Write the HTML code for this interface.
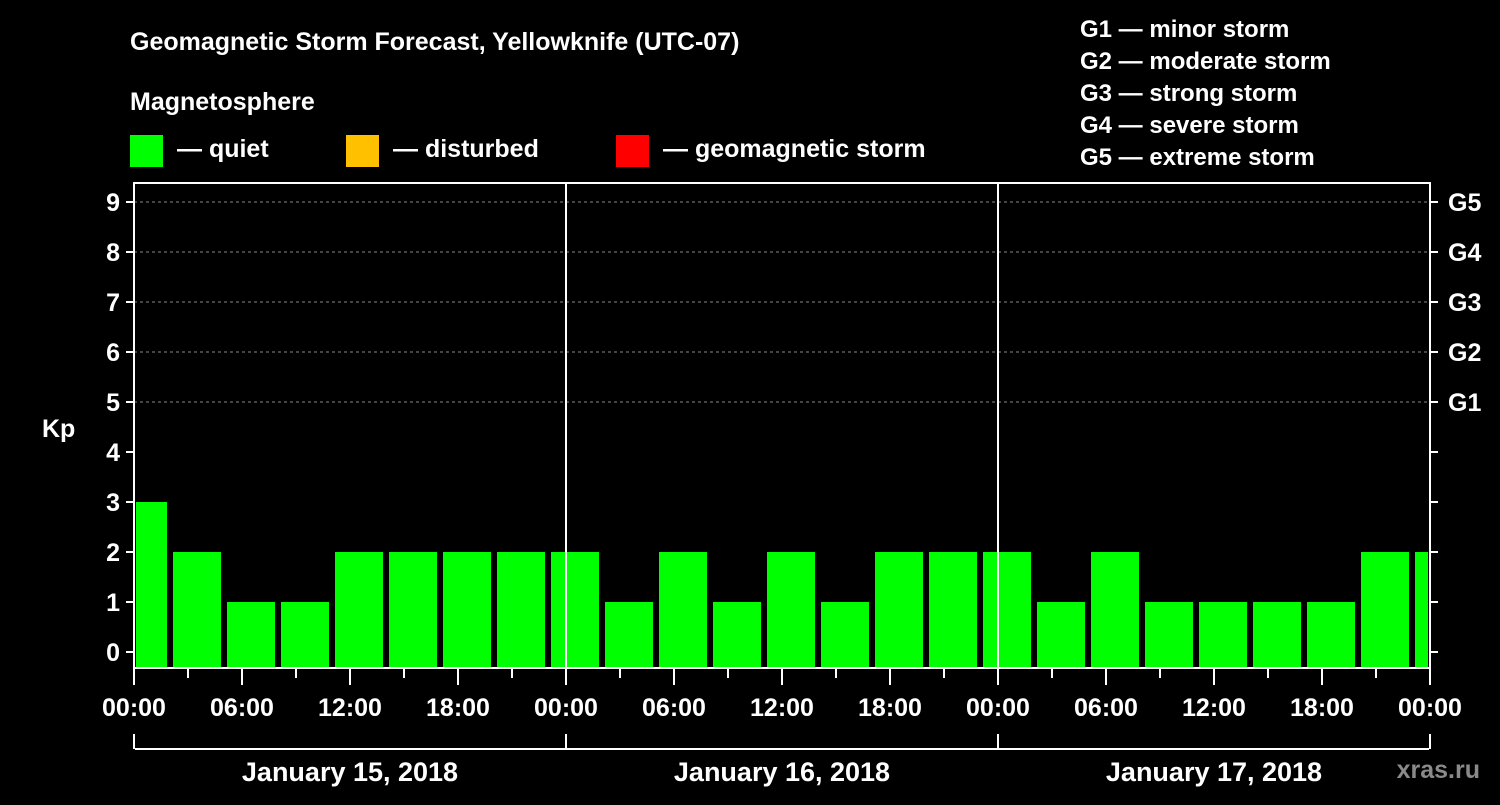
<!DOCTYPE html>
<html><head><meta charset="utf-8"><style>
body{margin:0;background:#000;width:1500px;height:800px;overflow:hidden}
svg text{font-family:"Liberation Sans",Arial,sans-serif;font-weight:bold;fill:#fff}
</style></head><body>
<svg id="c" width="1500" height="800">
<text x="130" y="50" font-size="25">Geomagnetic Storm Forecast, Yellowknife (UTC-07)</text>
<text x="130" y="110" font-size="25">Magnetosphere</text>
<rect x="130" y="135" width="33" height="32" fill="#00ff00"/>
<text x="177" y="157" font-size="25">— quiet</text>
<rect x="346" y="135" width="33" height="32" fill="#ffc000"/>
<text x="393" y="157" font-size="25">— disturbed</text>
<rect x="616" y="135" width="33" height="32" fill="#ff0000"/>
<text x="663" y="157" font-size="25">— geomagnetic storm</text>
<g font-size="24">
<text x="1080" y="37">G1 — minor storm</text>
<text x="1080" y="69">G2 — moderate storm</text>
<text x="1080" y="101">G3 — strong storm</text>
<text x="1080" y="133">G4 — severe storm</text>
<text x="1080" y="165">G5 — extreme storm</text>
</g>
<text x="42" y="437" font-size="25">Kp</text>
<text x="1480" y="778" font-size="25" text-anchor="end" fill="#888" style="fill:#8a8a8a">xras.ru</text>
<g id="grid"></g><g id="bars"></g><g id="axes"></g>
</svg>
<script>
const kpValues=[3,2,1,1,2,2,2,2,2,1,2,1,2,1,2,2,2,1,2,1,1,1,1,2,2];
const yTicks=[0,1,2,3,4,5,6,7,8,9];
const gLabels=["G1","G2","G3","G4","G5"];
const timeLabels=["00:00","06:00","12:00","18:00","00:00","06:00","12:00","18:00","00:00","06:00","12:00","18:00","00:00"];
const dayLabels=["January 15, 2018","January 16, 2018","January 17, 2018"];
const NS="http://www.w3.org/2000/svg";
const X0=134,X1=1430,Y0=668,YT=183;
const hx=h=>X0+h*(X1-X0)/72;
const ky=k=>652-k*50;
function mk(t,a,p){const e=document.createElementNS(NS,t);for(const k in a)e.setAttribute(k,a[k]);p.appendChild(e);return e;}
const grid=document.getElementById('grid'),bars=document.getElementById('bars'),axes=document.getElementById('axes');
for(let k=5;k<=9;k++){const l=mk('line',{x1:X0,x2:X1,y1:ky(k),y2:ky(k),stroke:'#888','stroke-dasharray':'3,3','stroke-width':1},grid);

}
kpValues.forEach((v,i)=>{let s=hx(-1+3*i)+3,e=hx(2+3*i)-3;s=Math.max(s,X0+2);e=Math.min(e,X1-2);
const r=mk('rect',{x:s,y:ky(v),width:e-s,height:Y0-ky(v),fill:'#00ff00'},bars);

});
mk('rect',{x:X0,y:YT,width:X1-X0,height:Y0-YT,fill:'none',stroke:'#fff','stroke-width':2},axes);
[24,48].forEach(h=>mk('line',{x1:hx(h),x2:hx(h),y1:YT,y2:Y0,stroke:'#fff','stroke-width':2},axes));
yTicks.forEach(k=>{mk('line',{x1:X0-8,x2:X0,y1:ky(k),y2:ky(k),stroke:'#fff','stroke-width':2},axes);
mk('line',{x1:X1,x2:X1+8,y1:ky(k),y2:ky(k),stroke:'#fff','stroke-width':2},axes);
const t=mk('text',{x:X0-14,y:ky(k)+9,'font-size':25,'text-anchor':'end'},axes);t.textContent=k;

});
gLabels.forEach((g,i)=>{const t=mk('text',{x:1448,y:ky(5+i)+9,'font-size':25},axes);t.textContent=g;

});
for(let h=0;h<=72;h+=3){mk('line',{x1:hx(h),x2:hx(h),y1:Y0,y2:h%6?678:685,stroke:'#fff','stroke-width':2},axes);}
timeLabels.forEach((s,i)=>{const t=mk('text',{x:hx(i*6),y:716,'font-size':25,'text-anchor':'middle'},axes);t.textContent=s;

});
mk('line',{x1:X0+1,x2:X1-1,y1:749,y2:749,stroke:'#fff','stroke-width':2},axes);
[0,24,48,72].forEach(h=>mk('line',{x1:hx(h),x2:hx(h),y1:734,y2:749,stroke:'#fff','stroke-width':2},axes));
dayLabels.forEach((s,i)=>{const t=mk('text',{x:hx(12+24*i),y:781,'font-size':27,'text-anchor':'middle'},axes);t.textContent=s;

});
</script>
</body></html>
